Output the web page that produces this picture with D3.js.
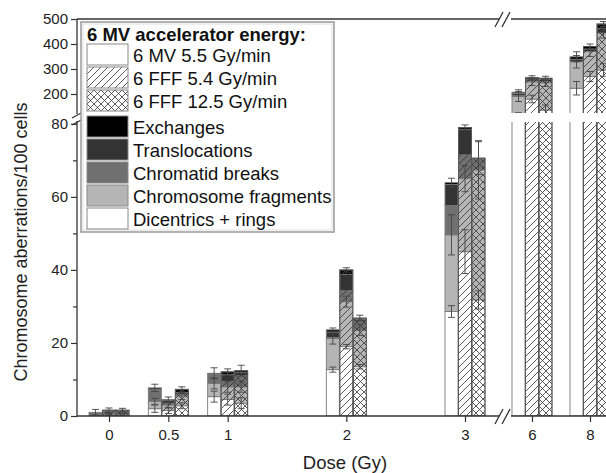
<!DOCTYPE html>
<html lang="en">
<head>
<meta charset="utf-8">
<title>Chromosome aberrations vs dose</title>
<script src="https://d3js.org/d3.v7.min.js"></script>
<style>
  body { margin: 0; background: #fff; }
  svg { display: block; font-family: Arial, "Liberation Sans", sans-serif; }
</style>
</head>
<body>
<script>
// Dose groups (Gy) and the three beam settings
var doses = [0, 0.5, 1, 2, 3, 6, 8];
var doseLabels = ["0", "0.5", "1", "2", "3", "6", "8"];
var beams = ["6 MV 5.5 Gy/min", "6 FFF 5.4 Gy/min", "6 FFF 12.5 Gy/min"];
var beamPatterns = [null, "hatch", "cross"];

// Aberration types, bottom of the stack first
var aberrations = ["Dicentrics + rings", "Chromosome fragments", "Chromatid breaks", "Translocations", "Exchanges"];
var aberrationColors = ["#ffffff", "#b5b5b5", "#707070", "#333333", "#000000"];

// Aberrations/100 cells, one row per beam (6 MV, FFF 5.4, FFF 12.5), one column per dose
var dicentrics   = [[0, 2, 5.3, 12.7, 28.6, 115, 223], [0.3, 1.5, 4.5, 19, 45, 180, 270], [0, 2.8, 3.5, 13.5, 31.8, 136, 296]];
var fragments    = [[0, 2, 3.6, 8.5, 21, 75, 106],     [0.3, 1.5, 3.5, 12.3, 20, 69, 100], [0.4, 2.7, 4.5, 10, 35.6, 109, 148]];
var breaks       = [[1, 3.2, 2.5, 0.3, 8, 5, 0],       [1, 0.5, 1.5, 3, 6.5, 3, 0],       [1.2, 0.5, 3, 2.5, 3, 5, 0]];
var translocations = [[0, 0.5, 0.3, 1.5, 5.8, 7, 10],  [0, 0.7, 1.8, 4.5, 7, 8, 10],      [0, 0.4, 0.9, 0.5, 0.2, 8, 18]];
var exchanges    = [[0, 0, 0, 0.6, 0.5, 5, 10],        [0, 0.2, 0.8, 1.2, 0.5, 5, 10],    [0, 0.9, 0.5, 0.3, 0, 5, 18]];

// Error bars (±) at the top of dicentrics, of fragments and of the whole stack
var errDicentrics = [[0, 1, 1.5, 0.7, 1.6, 10, 27], [0.3, 0.8, 1.5, 0.6, 6, 15, 20], [0, 0.8, 1.5, 0.6, 2.5, 20, 25]];
var errFragments  = [[0, 0.8, 1.5, 1.5, 5.5, 20, 25], [0.3, 0.8, 1.5, 1.5, 3.6, 15, 20], [0.3, 1, 1.5, 1.5, 8, 15, 20]];
var errTotal      = [[0.8, 1, 1.5, 0.5, 1.2, 10, 20], [0.6, 0.8, 0.8, 0.6, 0.7, 8, 10], [0.5, 0.7, 1.5, 0.8, 4.5, 8, 10]];

var yTicksLow = [0, 20, 40, 60, 80];
var yMinorLow = [10, 30, 50, 70];
var yTicksHigh = [200, 300, 400, 500];

var w = 606, h = 473;

var svg = d3.select("body").append("svg")
    .attr("width", w)
    .attr("height", h);

// Broken x axis: 0-3 Gy on the left, 6-8 Gy squeezed on the right
var xLeft = d3.scaleLinear().domain([0, 3]).range([109, 465]);
var xRight = d3.scaleLinear().domain([6, 8]).range([532, 590]);
function xDose(d) { return d <= 3 ? xLeft(d) : xRight(d); }

// Broken y axis: 0-80 below, 124-500 above
var yLow = d3.scaleLinear().domain([0, 80.5]).range([416, 122]);
var yHigh = d3.scaleLinear().domain([124, 500]).range([113, 19]);

var barW = 13;
var offsets = [-13.5, 0, 13.5];

var defs = svg.append("defs");

defs.append("clipPath").attr("id", "clipLow")
    .append("rect").attr("x", 0).attr("y", 122).attr("width", w).attr("height", 416 - 122);
defs.append("clipPath").attr("id", "clipHigh")
    .append("rect").attr("x", 0).attr("y", 19).attr("width", w).attr("height", 113 - 19);

// Hatch patterns laid over the coloured stacks
var hatch = defs.append("pattern").attr("id", "hatch")
    .attr("patternUnits", "userSpaceOnUse").attr("width", 7).attr("height", 7);
hatch.append("path")
    .attr("d", "M0,7 L7,0 M-1,1 L1,-1 M6,8 L8,6")
    .attr("stroke", "#333").attr("stroke-width", 0.8).attr("fill", "none");

var cross = defs.append("pattern").attr("id", "cross")
    .attr("patternUnits", "userSpaceOnUse").attr("width", 7).attr("height", 7);
cross.append("path")
    .attr("d", "M0,7 L7,0 M-1,1 L1,-1 M6,8 L8,6 M0,0 L7,7 M-1,6 L1,8 M6,-1 L8,1")
    .attr("stroke", "#333").attr("stroke-width", 0.8).attr("fill", "none");

// Build the stacked segments
var layers = [dicentrics, fragments, breaks, translocations, exchanges];
var segments = [];
var bars = [];
beams.forEach(function(beam, b) {
    doses.forEach(function(dose, i) {
        var base = 0;
        layers.forEach(function(layer, k) {
            var v = layer[b][i];
            segments.push({ beam: b, dose: dose, y0: base, y1: base + v, color: aberrationColors[k] });
            base += v;
        });
        var dic = dicentrics[b][i];
        var frag = dic + fragments[b][i];
        bars.push({
            beam: b, dose: dose, total: base,
            errs: [
                { v: dic, e: errDicentrics[b][i] },
                { v: frag, e: errFragments[b][i] },
                { v: base, e: errTotal[b][i] }
            ]
        });
    });
});

function barX(d) { return xDose(d.dose) + offsets[d.beam] - barW / 2; }

function drawBars(g, y) {
    g.selectAll("rect.seg")
        .data(segments.filter(function(d) { return d.y1 > d.y0; }))
        .enter().append("rect")
        .attr("class", "seg")
        .attr("x", barX)
        .attr("y", function(d) { return y(d.y1); })
        .attr("width", barW)
        .attr("height", function(d) { return y(d.y0) - y(d.y1); })
        .attr("fill", function(d) { return d.color; })
        .attr("stroke", "#7a7a7a")
        .attr("stroke-width", 0.9);

    g.selectAll("rect.pat")
        .data(bars.filter(function(d) { return beamPatterns[d.beam]; }))
        .enter().append("rect")
        .attr("class", "pat")
        .attr("x", barX)
        .attr("y", function(d) { return y(d.total); })
        .attr("width", barW)
        .attr("height", function(d) { return y(0) - y(d.total); })
        .attr("fill", function(d) { return "url(#" + beamPatterns[d.beam] + ")"; })
        .attr("stroke", "#555")
        .attr("stroke-width", 0.9);

    var errs = [];
    bars.forEach(function(d) {
        d.errs.forEach(function(e) {
            if (e.e > 0) errs.push({ cx: barX(d) + barW / 2, v: e.v, e: e.e });
        });
    });

    var eg = g.selectAll("g.err").data(errs).enter().append("g").attr("class", "err")
        .attr("stroke", "#444").attr("stroke-width", 0.9);
    eg.append("line")
        .attr("x1", function(d) { return d.cx; }).attr("x2", function(d) { return d.cx; })
        .attr("y1", function(d) { return y(d.v - d.e); }).attr("y2", function(d) { return y(d.v + d.e); });
    eg.append("line")
        .attr("x1", function(d) { return d.cx - 3.5; }).attr("x2", function(d) { return d.cx + 3.5; })
        .attr("y1", function(d) { return y(d.v + d.e); }).attr("y2", function(d) { return y(d.v + d.e); });
    eg.append("line")
        .attr("x1", function(d) { return d.cx - 3.5; }).attr("x2", function(d) { return d.cx + 3.5; })
        .attr("y1", function(d) { return y(d.v - d.e); }).attr("y2", function(d) { return y(d.v - d.e); });
}

drawBars(svg.append("g").attr("clip-path", "url(#clipLow)"), yLow);
drawBars(svg.append("g").attr("clip-path", "url(#clipHigh)"), yHigh);

// Axes
var axisColor = "#333";

function styleAxis(g) {
    g.select(".domain").remove();
    g.selectAll(".tick line").attr("stroke", axisColor).attr("stroke-width", 1.2);
    g.selectAll(".tick text").attr("fill", "#222").style("font-size", "15px")
        .style("font-family", "Arial, 'Liberation Sans', sans-serif");
}

svg.append("g").attr("transform", "translate(77,0)")
    .call(d3.axisLeft(yLow).tickValues(yTicksLow).tickSize(6).tickPadding(3))
    .call(styleAxis);
svg.append("g").attr("transform", "translate(77,0)")
    .call(d3.axisLeft(yLow).tickValues(yMinorLow).tickSize(4).tickFormat(""))
    .call(styleAxis);
svg.append("g").attr("transform", "translate(77,0)")
    .call(d3.axisLeft(yHigh).tickValues(yTicksHigh).tickSize(6).tickPadding(3))
    .call(styleAxis);

svg.append("g").attr("transform", "translate(0,416)")
    .call(d3.axisBottom(xLeft).tickValues(doses.filter(function(d) { return d <= 3; }))
        .tickFormat(function(d) { return doseLabels[doses.indexOf(d)]; }).tickSize(6).tickPadding(7))
    .call(styleAxis);
svg.append("g").attr("transform", "translate(0,416)")
    .call(d3.axisBottom(xRight).tickValues(doses.filter(function(d) { return d > 3; }))
        .tickFormat(function(d) { return doseLabels[doses.indexOf(d)]; }).tickSize(6).tickPadding(7))
    .call(styleAxis);

// Axis lines with breaks
var lines = svg.append("g").attr("stroke", axisColor).attr("stroke-width", 1.3).attr("fill", "none");
lines.append("line").attr("x1", 77).attr("x2", 77).attr("y1", 416.5).attr("y2", 121);
lines.append("line").attr("x1", 77).attr("x2", 77).attr("y1", 114).attr("y2", 19);
lines.append("line").attr("x1", 77).attr("x2", 499).attr("y1", 416).attr("y2", 416);
lines.append("line").attr("x1", 511).attr("x2", w).attr("y1", 416).attr("y2", 416);
lines.append("line").attr("x1", 77).attr("x2", 499).attr("y1", 19).attr("y2", 19);
lines.append("line").attr("x1", 511).attr("x2", w).attr("y1", 19).attr("y2", 19);

// Break marks
lines.append("path").attr("d", "M72,118 L83,112 M72,125 L83,119");
lines.append("path").attr("d", "M495,424 L503,409 M502,424 L510,409");
lines.append("path").attr("d", "M495,27 L503,12 M502,27 L510,12");

// Axis titles
svg.append("text")
    .attr("transform", "translate(27,242) rotate(-90)")
    .attr("text-anchor", "middle")
    .style("font-size", "18px")
    .attr("fill", "#222")
    .text("Chromosome aberrations/100 cells");

svg.append("text")
    .attr("x", 345).attr("y", 469)
    .attr("text-anchor", "middle")
    .style("font-size", "18.5px")
    .attr("fill", "#222")
    .text("Dose (Gy)");

// Legend
var legend = svg.append("g");
legend.append("rect")
    .attr("x", 81).attr("y", 22).attr("width", 253).attr("height", 210)
    .attr("fill", "#fff").attr("stroke", "#999").attr("stroke-width", 1.5);
legend.append("rect")
    .attr("x", 83).attr("y", 24).attr("width", 249).attr("height", 206)
    .attr("fill", "none").attr("stroke", "#ddd").attr("stroke-width", 1);

legend.append("text")
    .attr("x", 87).attr("y", 41)
    .style("font-size", "18.5px").style("font-weight", "bold")
    .attr("fill", "#111")
    .text("6 MV accelerator energy:");

var legendItems = beams.map(function(b, i) {
    return { label: b, fill: beamPatterns[i] ? "url(#" + beamPatterns[i] + ")" : "#fff" };
}).concat(aberrations.slice().reverse().map(function(a) {
    return { label: a, fill: aberrationColors[aberrations.indexOf(a)] };
}));

var item = legend.selectAll("g.item").data(legendItems).enter().append("g")
    .attr("class", "item")
    .attr("transform", function(d, i) { return "translate(87," + (44 + i * 23 + (i >= 3 ? 3 : 0)) + ")"; });
item.append("rect")
    .attr("width", 41).attr("height", 21)
    .attr("fill", function(d) { return d.fill; })
    .attr("stroke", "#888").attr("stroke-width", 1);
item.append("text")
    .attr("x", 46).attr("y", 18)
    .style("font-size", "18.5px")
    .attr("fill", "#111")
    .text(function(d) { return d.label; });
</script>
</body>
</html>
